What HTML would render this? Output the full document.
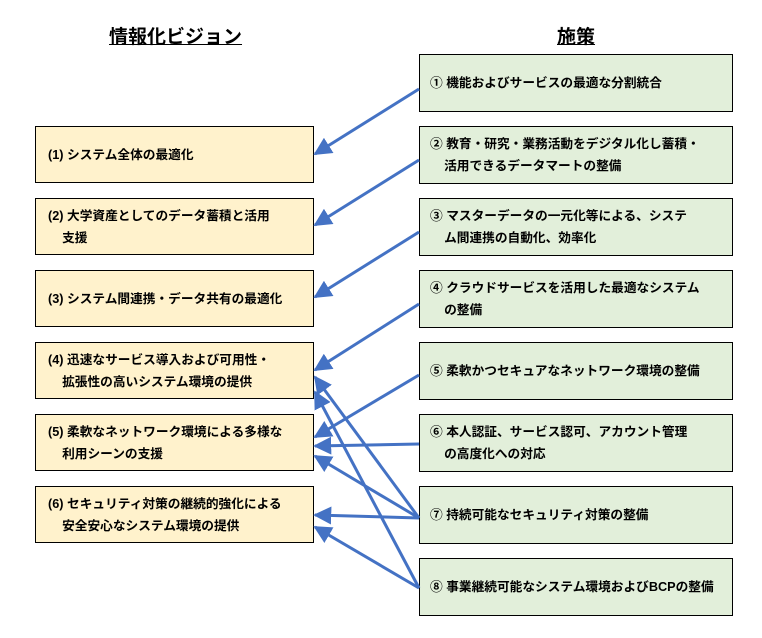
<!DOCTYPE html>
<html><head><meta charset="utf-8"><style>
body{margin:0;width:762px;height:638px;background:#fff;position:relative;font-family:"Liberation Sans","Noto Sans CJK JP",sans-serif;font-weight:bold;font-size:12.7px;color:#000;overflow:hidden}
.b{position:absolute;box-sizing:border-box;border:1.5px solid #000;display:flex;align-items:center;line-height:22px}
.l{left:35px;width:279px;height:57px;background:#fff2cc;padding-left:12px}
.r{left:419px;width:314px;height:58px;background:#e2efda;padding-left:10px}
.h{position:absolute;font-size:19px;text-decoration:underline;top:22px}
svg{position:absolute;left:0;top:0}
</style></head><body>
<div class="h" style="left:109px">情報化ビジョン</div>
<div class="h" style="left:557px">施策</div>
<div class="b l" style="top:126px">(1) システム全体の最適化</div>
<div class="b l" style="top:198px"><div>(2) 大学資産としてのデータ蓄積と活用<br>&nbsp;&nbsp;&nbsp;&nbsp;支援</div></div>
<div class="b l" style="top:270px">(3) システム間連携・データ共有の最適化</div>
<div class="b l" style="top:342px"><div>(4) 迅速なサービス導入および可用性・<br>&nbsp;&nbsp;&nbsp;&nbsp;拡張性の高いシステム環境の提供</div></div>
<div class="b l" style="top:414px"><div>(5) 柔軟なネットワーク環境による多様な<br>&nbsp;&nbsp;&nbsp;&nbsp;利用シーンの支援</div></div>
<div class="b l" style="top:486px"><div>(6) セキュリティ対策の継続的強化による<br>&nbsp;&nbsp;&nbsp;&nbsp;安全安心なシステム環境の提供</div></div>
<div class="b r" style="top:54px">① 機能およびサービスの最適な分割統合</div>
<div class="b r" style="top:126px"><div>② 教育・研究・業務活動をデジタル化し蓄積・<br>&nbsp;&nbsp;&nbsp;&nbsp;活用できるデータマートの整備</div></div>
<div class="b r" style="top:198px"><div>③ マスターデータの一元化等による、システ<br>&nbsp;&nbsp;&nbsp;&nbsp;ム間連携の自動化、効率化</div></div>
<div class="b r" style="top:270px"><div>④ クラウドサービスを活用した最適なシステム<br>&nbsp;&nbsp;&nbsp;&nbsp;の整備</div></div>
<div class="b r" style="top:342px">⑤ 柔軟かつセキュアなネットワーク環境の整備</div>
<div class="b r" style="top:414px"><div>⑥ 本人認証、サービス認可、アカウント管理<br>&nbsp;&nbsp;&nbsp;&nbsp;の高度化への対応</div></div>
<div class="b r" style="top:486px">⑦ 持続可能なセキュリティ対策の整備</div>
<div class="b r" style="top:558px">⑧ 事業継続可能なシステム環境およびBCPの整備</div>
<svg width="762" height="638"><defs><marker id="a" viewBox="0 0 10 10" refX="9" refY="5" markerWidth="6" markerHeight="6" orient="auto" markerUnits="strokeWidth"><path d="M0,0L10,5L0,10z" fill="#4472c4"/></marker></defs>
<g stroke="#4472c4" stroke-width="3" marker-end="url(#a)" fill="none">
<line x1="419" y1="89" x2="315" y2="154"/>
<line x1="419" y1="160" x2="315" y2="225"/>
<line x1="419" y1="232" x2="315" y2="297"/>
<line x1="419" y1="304" x2="315" y2="370"/>
<line x1="419" y1="375" x2="315" y2="437"/>
<line x1="419" y1="444" x2="315" y2="446"/>
<line x1="419" y1="518" x2="315" y2="456"/>
<line x1="419" y1="518" x2="315" y2="515"/>
<line x1="419" y1="518" x2="315" y2="377"/>
<line x1="419" y1="588" x2="315" y2="527"/>
<line x1="419" y1="588" x2="315" y2="392"/>
</g></svg>
</body></html>
